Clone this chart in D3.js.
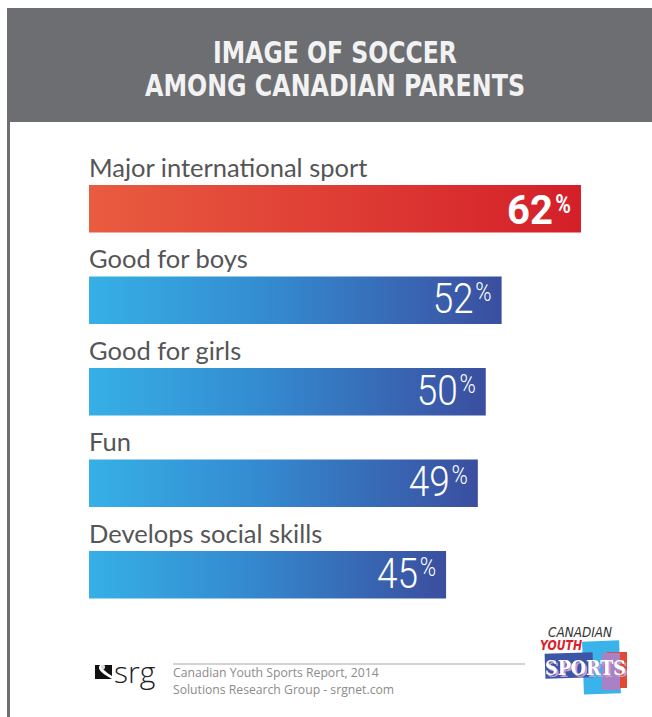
<!DOCTYPE html>
<html>
<head>
<meta charset="utf-8">
<script src="https://cdn.jsdelivr.net/npm/d3@7"></script>
<style>
  html, body { margin: 0; padding: 0; background: #fff; }
  svg { display: block; }
</style>
</head>
<body>
<div id="chart"></div>
<script>
// data
const titleLines = ['IMAGE OF SOCCER', 'AMONG CANADIAN PARENTS'];
const categories = ['Major international sport', 'Good for boys', 'Good for girls', 'Fun', 'Develops social skills'];
const values = [62, 52, 50, 49, 45];
const highlight = [true, false, false, false, false];
const sourceLines = ['Canadian Youth Sports Report, 2014', 'Solutions Research Group - srgnet.com'];

const W = 652, H = 717;

const svg = d3.select('#chart')
  .append('svg')
  .attr('width', W)
  .attr('height', H);

const defs = svg.append('defs');

const red = defs.append('linearGradient').attr('id', 'gRed');
red.append('stop').attr('offset', '0%').attr('stop-color', '#e95c40');
red.append('stop').attr('offset', '100%').attr('stop-color', '#d41f29');

const blue = defs.append('linearGradient').attr('id', 'gBlue');
blue.append('stop').attr('offset', '0%').attr('stop-color', '#36b0e6');
blue.append('stop').attr('offset', '45%').attr('stop-color', '#3489cf');
blue.append('stop').attr('offset', '100%').attr('stop-color', '#3b4e9f');

const shadow = defs.append('filter').attr('id', 'sportsShadow')
  .attr('x', '-10%').attr('y', '-20%').attr('width', '130%').attr('height', '150%');
shadow.append('feDropShadow')
  .attr('dx', 2).attr('dy', 2).attr('stdDeviation', 0.4)
  .attr('flood-color', '#c99bd0').attr('flood-opacity', 1);

// header band
svg.append('rect')
  .attr('x', 7).attr('y', 8)
  .attr('width', W - 7).attr('height', 114)
  .attr('fill', '#6d6e72');

// left rule
svg.append('rect')
  .attr('x', 7).attr('y', 122)
  .attr('width', 3).attr('height', H - 122)
  .attr('fill', '#6d6e72');

const titleWidths = [244, 380];
svg.append('g')
  .selectAll('text')
  .data(titleLines)
  .join('text')
  .attr('x', (d, i) => i === 0 ? 213 : 145)
  .attr('y', (d, i) => i === 0 ? 63 : 96)
  .attr('textLength', (d, i) => titleWidths[i])
  .attr('lengthAdjust', 'spacingAndGlyphs')
  .style('font-family', '"DejaVu Sans Condensed", "DejaVu Sans", sans-serif')
  .style('font-weight', 'bold')
  .style('font-size', '30px')
  .style('fill', '#f2f2f2')
  .text(d => d);

// scales
const x = d3.scaleLinear()
  .domain([0, 100])
  .range([89, 89 + 793.5]);

const y = d3.scaleBand()
  .domain(categories)
  .range([185, 598.5])
  .paddingInner(44 / 91.5)
  .paddingOuter(0);

const rows = svg.append('g')
  .selectAll('g')
  .data(categories)
  .join('g');

rows.append('text')
  .attr('x', x(0))
  .attr('y', d => y(d) - 8.5)
  .style('font-family', 'Lato, "Open Sans", sans-serif')
  .style('font-size', '25.5px')
  .style('fill', '#555557')
  .text(d => d);

rows.append('rect')
  .attr('x', x(0))
  .attr('y', d => y(d))
  .attr('width', (d, i) => x(values[i]) - x(0))
  .attr('height', y.bandwidth())
  .attr('fill', (d, i) => highlight[i] ? 'url(#gRed)' : 'url(#gBlue)');

// value labels: big number + small raised percent sign
const val = rows.append('g')
  .attr('transform', (d, i) => `translate(${x(values[i]) - 10},${y(d) + (highlight[i] ? 39 : 36.5)})`);

val.append('text')
  .attr('text-anchor', 'end')
  .attr('y', (d, i) => highlight[i] ? -11 : -12)
  .attr('transform', 'scale(0.85,1)')
  .style('font-family', 'Roboto, "DejaVu Sans", sans-serif')
  .style('font-size', (d, i) => highlight[i] ? '25px' : '26px')
  .style('font-weight', (d, i) => highlight[i] ? 'bold' : '300')
  .style('fill', '#fff')
  .text('%');

val.append('g')
  .attr('transform', (d, i) => `translate(-18,0) scale(${highlight[i] ? 1.0 : 0.88},1)`)
  .append('text')
  .attr('text-anchor', 'end')
  .style('font-family', 'Roboto, "DejaVu Sans", sans-serif')
  .style('font-size', (d, i) => highlight[i] ? '40px' : '42px')
  .style('font-weight', (d, i) => highlight[i] ? 'bold' : '300')
  .style('fill', '#fff')
  .text((d, i) => values[i]);

// footer
svg.append('line')
  .attr('x1', 173).attr('x2', 525)
  .attr('y1', 664).attr('y2', 664)
  .attr('stroke', '#c4c4c4')
  .attr('stroke-width', 1.5);

svg.append('g')
  .selectAll('text')
  .data(sourceLines)
  .join('text')
  .attr('x', 173)
  .attr('y', (d, i) => 677 + i * 17)
  .style('font-family', '"Open Sans", sans-serif')
  .style('font-size', '12.2px')
  .style('fill', '#8b8b8b')
  .text(d => d);

// srg logo
const srg = svg.append('g');
srg.append('rect')
  .attr('x', 95).attr('y', 665)
  .attr('width', 17).attr('height', 14)
  .attr('fill', '#111');
srg.append('path')
  .attr('d', 'M100,665 C96,670 104,674 112,679 L112,676 C106,672 101,669 103,665 Z')
  .attr('fill', '#fff');
srg.append('circle')
  .attr('cx', 103).attr('cy', 667).attr('r', 2.2)
  .attr('fill', '#ddd');
srg.append('text')
  .attr('x', 114).attr('y', 683)
  .style('font-family', '"Open Sans", sans-serif')
  .style('font-size', '30px')
  .style('font-weight', '300')
  .style('fill', '#222')
  .text('srg');

// Canadian Youth Sports logo
const cys = svg.append('g');
cys.append('rect')
  .attr('x', 583).attr('y', 641).attr('width', 37).attr('height', 53)
  .attr('fill', '#3ab2ea')
  .attr('transform', 'rotate(-2,601,667)');
cys.append('rect')
  .attr('x', 607).attr('y', 652).attr('width', 20).attr('height', 36)
  .attr('fill', '#e04a32');
cys.append('rect')
  .attr('x', 602).attr('y', 653).attr('width', 18).attr('height', 37)
  .attr('fill', '#a882c4');
cys.append('rect')
  .attr('x', 545).attr('y', 653).attr('width', 48).attr('height', 25)
  .attr('fill', '#3c55a6')
  .attr('transform', 'rotate(-2,569,665)');

const brand = cys.append('text')
  .attr('transform', 'translate(0,637) scale(1,1.15) translate(0,-637)')
  .style('font-family', '"DejaVu Sans Condensed", sans-serif')
  .style('font-style', 'italic')
  .style('font-size', '13px');
brand.append('tspan')
  .attr('x', 548).attr('y', 637)
  .attr('textLength', 64)
  .attr('lengthAdjust', 'spacingAndGlyphs')
  .style('fill', '#333')
  .text('CANADIAN');
brand.append('tspan')
  .attr('x', 540).attr('y', 648.5)
  .attr('textLength', 42)
  .attr('lengthAdjust', 'spacingAndGlyphs')
  .style('font-weight', 'bold')
  .style('fill', '#d8202a')
  .text('YOUTH');

cys.append('text')
  .attr('x', 545).attr('y', 675)
  .attr('textLength', 81)
  .attr('lengthAdjust', 'spacingAndGlyphs')
  .attr('filter', 'url(#sportsShadow)')
  .style('font-family', '"DejaVu Serif", serif')
  .style('font-weight', 'bold')
  .style('font-size', '20px')
  .style('fill', '#fff')
  .text('SPORTS');
</script>
</body>
</html>
